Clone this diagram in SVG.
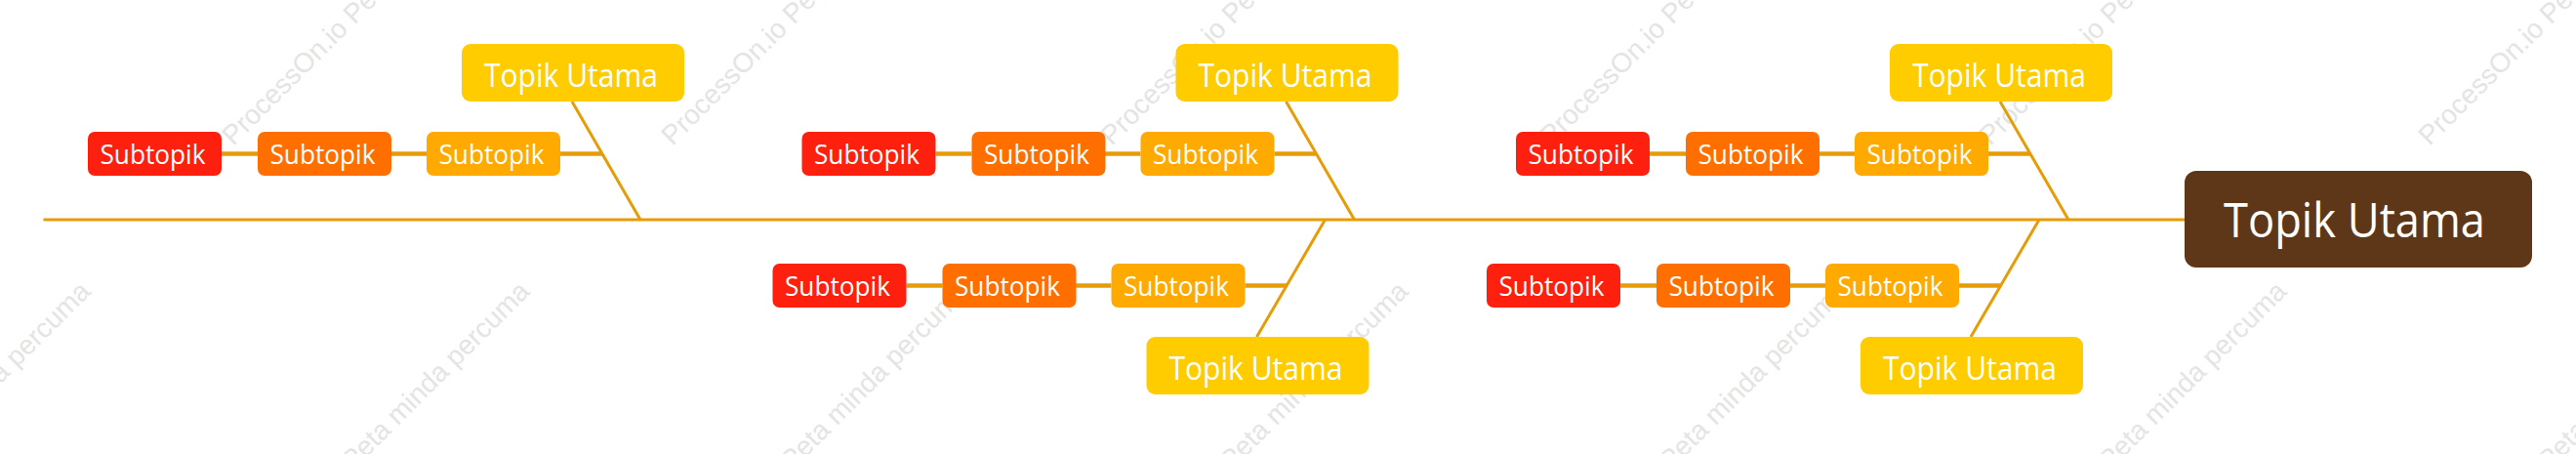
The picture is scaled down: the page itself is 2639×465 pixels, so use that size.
<svg xmlns="http://www.w3.org/2000/svg" width="2639" height="465" viewBox="0 0 2639 465">
<style>
.wm{font-family:"Liberation Sans",Arial,sans-serif;font-size:28px;fill:#E4E4E4}
.ln{stroke:#E69C06;fill:none;stroke-width:3}
.sl{stroke:#E69C06;fill:none;stroke-width:4.5}
.t{font-family:"Open Sans","Noto Sans",sans-serif;fill:#FFFFFF;text-anchor:middle}
.tp{font-size:32px}
.st{font-size:27px}
.main{fill:#FFCC00}
.s1{fill:#FD200E}
.s2{fill:#FF6F00}
.s3{fill:#FFAA00}
</style>
<rect width="2639" height="465" fill="#FFFFFF"/>
<g id="watermark">
<text class="wm" transform="translate(239,150) rotate(-45)">ProcessOn.io Peta minda percuma</text>
<text class="wm" transform="translate(689,150) rotate(-45)">ProcessOn.io Peta minda percuma</text>
<text class="wm" transform="translate(1139,150) rotate(-45)">ProcessOn.io Peta minda percuma</text>
<text class="wm" transform="translate(1589,150) rotate(-45)">ProcessOn.io Peta minda percuma</text>
<text class="wm" transform="translate(2039,150) rotate(-45)">ProcessOn.io Peta minda percuma</text>
<text class="wm" transform="translate(2489,150) rotate(-45)">ProcessOn.io Peta minda percuma</text>
<text class="wm" transform="translate(-213,607) rotate(-45)">ProcessOn.io Peta minda percuma</text>
<text class="wm" transform="translate(237,607) rotate(-45)">ProcessOn.io Peta minda percuma</text>
<text class="wm" transform="translate(687,607) rotate(-45)">ProcessOn.io Peta minda percuma</text>
<text class="wm" transform="translate(1137,607) rotate(-45)">ProcessOn.io Peta minda percuma</text>
<text class="wm" transform="translate(1587,607) rotate(-45)">ProcessOn.io Peta minda percuma</text>
<text class="wm" transform="translate(2037,607) rotate(-45)">ProcessOn.io Peta minda percuma</text>
<text class="wm" transform="translate(2487,607) rotate(-45)">ProcessOn.io Peta minda percuma</text>
</g>
<g id="connectors">
<line class="ln" x1="44.5" y1="225" x2="2238" y2="225"/>
<line class="ln" x1="586" y1="104" x2="656" y2="225"/>
<line class="sl" x1="227" y1="157.5" x2="264" y2="157.5"/>
<line class="sl" x1="400" y1="157.5" x2="437" y2="157.5"/>
<line class="sl" x1="574" y1="157.5" x2="617" y2="157.5"/>
<line class="ln" x1="1317.5" y1="104" x2="1387.5" y2="225"/>
<line class="sl" x1="958.5" y1="157.5" x2="995.5" y2="157.5"/>
<line class="sl" x1="1131.5" y1="157.5" x2="1168.5" y2="157.5"/>
<line class="sl" x1="1305.5" y1="157.5" x2="1348.5" y2="157.5"/>
<line class="ln" x1="2049" y1="104" x2="2119" y2="225"/>
<line class="sl" x1="1690" y1="157.5" x2="1727" y2="157.5"/>
<line class="sl" x1="1863" y1="157.5" x2="1900" y2="157.5"/>
<line class="sl" x1="2037" y1="157.5" x2="2080" y2="157.5"/>
<line class="ln" x1="1357.5" y1="225" x2="1287.5" y2="345"/>
<line class="sl" x1="928.5" y1="292.5" x2="965.5" y2="292.5"/>
<line class="sl" x1="1101.5" y1="292.5" x2="1138.5" y2="292.5"/>
<line class="sl" x1="1275.5" y1="292.5" x2="1318.1" y2="292.5"/>
<line class="ln" x1="2089" y1="225" x2="2019" y2="345"/>
<line class="sl" x1="1660" y1="292.5" x2="1697" y2="292.5"/>
<line class="sl" x1="1833" y1="292.5" x2="1870" y2="292.5"/>
<line class="sl" x1="2007" y1="292.5" x2="2049.6" y2="292.5"/>
</g>
<g id="root">
<rect x="2238" y="175" width="356" height="99" rx="12" fill="#5E3719"/>
<text class="t" x="2412" y="243" font-size="50" textLength="268" lengthAdjust="spacingAndGlyphs">Topik Utama</text>
</g>
<g id="topic-u1"><rect class="main" x="473" y="45" width="228" height="59" rx="9"/><text class="t tp" x="585" y="88.5" textLength="178" lengthAdjust="spacingAndGlyphs">Topik Utama</text></g>
<g id="sub-u1-1"><rect class="s1" x="90" y="135" width="137" height="45" rx="7"/><text class="t st" x="156.5" y="167.7" textLength="108" lengthAdjust="spacingAndGlyphs">Subtopik</text></g>
<g id="sub-u1-2"><rect class="s2" x="264" y="135" width="137" height="45" rx="7"/><text class="t st" x="330.5" y="167.7" textLength="108" lengthAdjust="spacingAndGlyphs">Subtopik</text></g>
<g id="sub-u1-3"><rect class="s3" x="437" y="135" width="137" height="45" rx="7"/><text class="t st" x="503.5" y="167.7" textLength="108" lengthAdjust="spacingAndGlyphs">Subtopik</text></g>
<g id="topic-u2"><rect class="main" x="1204.5" y="45" width="228" height="59" rx="9"/><text class="t tp" x="1316.5" y="88.5" textLength="178" lengthAdjust="spacingAndGlyphs">Topik Utama</text></g>
<g id="sub-u2-1"><rect class="s1" x="821.5" y="135" width="137" height="45" rx="7"/><text class="t st" x="888" y="167.7" textLength="108" lengthAdjust="spacingAndGlyphs">Subtopik</text></g>
<g id="sub-u2-2"><rect class="s2" x="995.5" y="135" width="137" height="45" rx="7"/><text class="t st" x="1062" y="167.7" textLength="108" lengthAdjust="spacingAndGlyphs">Subtopik</text></g>
<g id="sub-u2-3"><rect class="s3" x="1168.5" y="135" width="137" height="45" rx="7"/><text class="t st" x="1235" y="167.7" textLength="108" lengthAdjust="spacingAndGlyphs">Subtopik</text></g>
<g id="topic-u3"><rect class="main" x="1936" y="45" width="228" height="59" rx="9"/><text class="t tp" x="2048" y="88.5" textLength="178" lengthAdjust="spacingAndGlyphs">Topik Utama</text></g>
<g id="sub-u3-1"><rect class="s1" x="1553" y="135" width="137" height="45" rx="7"/><text class="t st" x="1619.5" y="167.7" textLength="108" lengthAdjust="spacingAndGlyphs">Subtopik</text></g>
<g id="sub-u3-2"><rect class="s2" x="1727" y="135" width="137" height="45" rx="7"/><text class="t st" x="1793.5" y="167.7" textLength="108" lengthAdjust="spacingAndGlyphs">Subtopik</text></g>
<g id="sub-u3-3"><rect class="s3" x="1900" y="135" width="137" height="45" rx="7"/><text class="t st" x="1966.5" y="167.7" textLength="108" lengthAdjust="spacingAndGlyphs">Subtopik</text></g>
<g id="topic-l1"><rect class="main" x="1174.5" y="345" width="228" height="59" rx="9"/><text class="t tp" x="1286.5" y="388.5" textLength="178" lengthAdjust="spacingAndGlyphs">Topik Utama</text></g>
<g id="sub-l1-1"><rect class="s1" x="791.5" y="270" width="137" height="45" rx="7"/><text class="t st" x="858" y="302.7" textLength="108" lengthAdjust="spacingAndGlyphs">Subtopik</text></g>
<g id="sub-l1-2"><rect class="s2" x="965.5" y="270" width="137" height="45" rx="7"/><text class="t st" x="1032" y="302.7" textLength="108" lengthAdjust="spacingAndGlyphs">Subtopik</text></g>
<g id="sub-l1-3"><rect class="s3" x="1138.5" y="270" width="137" height="45" rx="7"/><text class="t st" x="1205" y="302.7" textLength="108" lengthAdjust="spacingAndGlyphs">Subtopik</text></g>
<g id="topic-l2"><rect class="main" x="1906" y="345" width="228" height="59" rx="9"/><text class="t tp" x="2018" y="388.5" textLength="178" lengthAdjust="spacingAndGlyphs">Topik Utama</text></g>
<g id="sub-l2-1"><rect class="s1" x="1523" y="270" width="137" height="45" rx="7"/><text class="t st" x="1589.5" y="302.7" textLength="108" lengthAdjust="spacingAndGlyphs">Subtopik</text></g>
<g id="sub-l2-2"><rect class="s2" x="1697" y="270" width="137" height="45" rx="7"/><text class="t st" x="1763.5" y="302.7" textLength="108" lengthAdjust="spacingAndGlyphs">Subtopik</text></g>
<g id="sub-l2-3"><rect class="s3" x="1870" y="270" width="137" height="45" rx="7"/><text class="t st" x="1936.5" y="302.7" textLength="108" lengthAdjust="spacingAndGlyphs">Subtopik</text></g>
</svg>
